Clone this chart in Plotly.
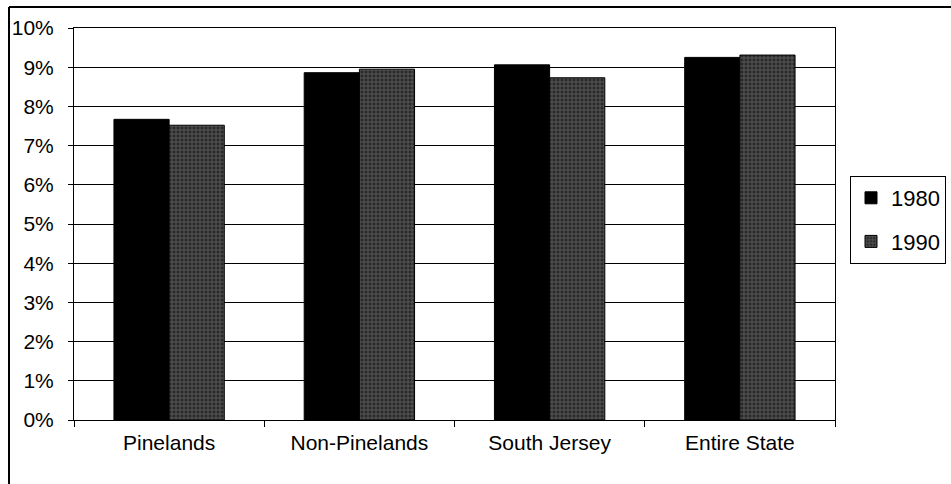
import plotly.graph_objects as go

categories = ["Pinelands", "Non-Pinelands", "South Jersey", "Entire State"]
values_1980 = [0.0767, 0.0886, 0.0906, 0.0925]
values_1990 = [0.0752, 0.0895, 0.0873, 0.0931]
series_names = ["1980", "1990"]

fig = go.Figure()
fig.add_trace(go.Bar(
    x=categories, y=values_1980, name=series_names[0], legendgroup="a",
    marker=dict(color="#000000", line=dict(color="#000000", width=1)),
))
fig.add_trace(go.Bar(
    x=categories, y=values_1990, name=series_names[1], legendgroup="b",
    marker=dict(color="#2a2a2a", line=dict(color="#000000", width=1),
                pattern=dict(shape="+", fgcolor="#9a9a9a", bgcolor="#2a2a2a",
                             size=4, solidity=0.35)),
))

L, R, T, B = 74, 951 - 835, 28, 484 - 420
W, H = 951, 484
pw, ph = W - L - R, H - T - B

def px_x(x):
    return (x - L) / pw

def px_y(y):
    return (H - B - y) / ph

fig.update_layout(
    width=W, height=H,
    margin=dict(l=L, r=R, t=T, b=B, autoexpand=False),
    paper_bgcolor="white", plot_bgcolor="white",
    barmode="group", bargap=0.42, bargroupgap=0,
    font=dict(family="Liberation Sans, Arial", color="#000000"),
    showlegend=True,
    legend=dict(
        x=px_x(850), y=px_y(176), xanchor="left", yanchor="top",
        bordercolor="#000000", borderwidth=1, bgcolor="white",
        font=dict(size=22), tracegroupgap=12, itemwidth=30,
    ),
    xaxis=dict(
        showline=True, linecolor="#000000", linewidth=1, mirror=True,
        ticks="outside", ticklen=6, tickcolor="#000000", tickson="boundaries",
        tickfont=dict(size=21), showgrid=False, ticklabelstandoff=4,
    ),
    yaxis=dict(
        range=[0, 0.1], dtick=0.01, tickformat=".0%",
        showline=True, linecolor="#000000", linewidth=1, mirror=True,
        ticks="outside", ticklen=5, tickcolor="#000000",
        showgrid=True, gridcolor="#000000", gridwidth=1,
        tickfont=dict(size=21), ticklabelstandoff=10,
        zeroline=False,
    ),
    shapes=[
        dict(type="line", xref="paper", yref="paper",
             x0=px_x(9), x1=px_x(951), y0=px_y(7), y1=px_y(7),
             line=dict(color="#000000", width=2)),
        dict(type="line", xref="paper", yref="paper",
             x0=px_x(9), x1=px_x(9), y0=px_y(7), y1=px_y(484),
             line=dict(color="#000000", width=2)),
    ],
)

fig.write_html("out.html")
